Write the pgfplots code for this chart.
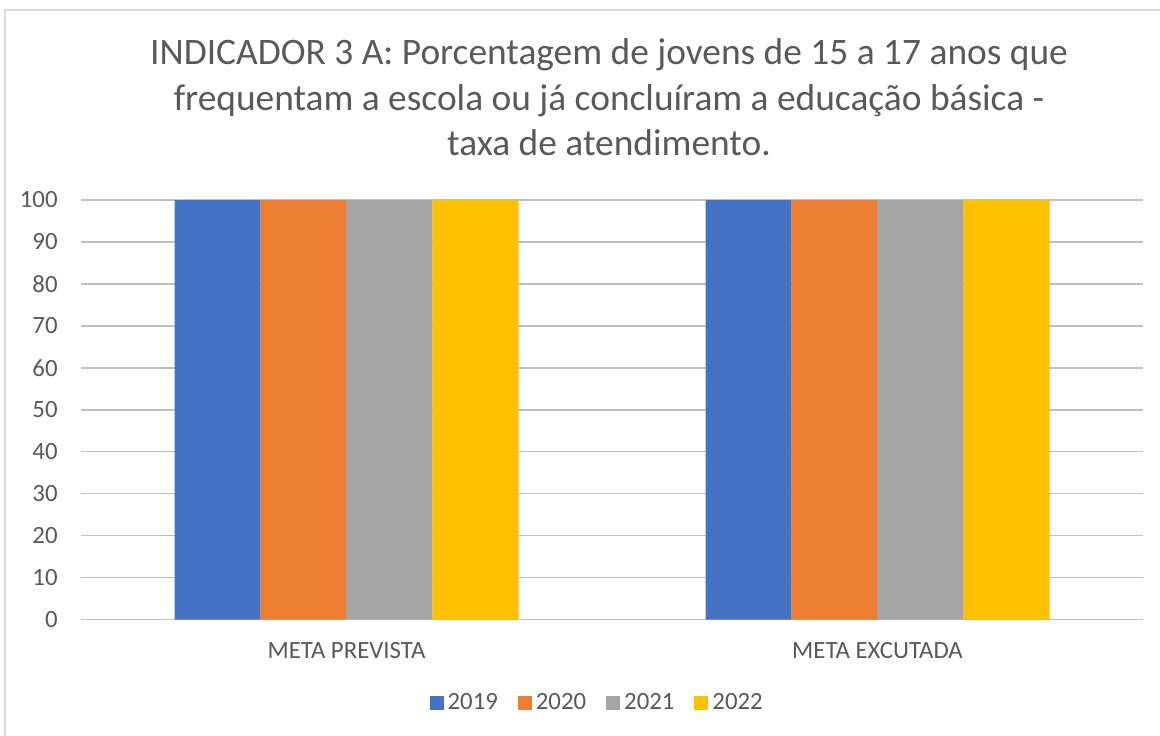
\documentclass[border=0pt]{standalone}
\usepackage{pgfplots}
\pgfplotsset{compat=1.18}
\usepackage{fontspec}
\setmainfont{Carlito}
\definecolor{cBlue}{HTML}{4472C4}
\definecolor{cOrange}{HTML}{ED7D31}
\definecolor{cGray}{HTML}{A5A5A5}
\definecolor{cYellow}{HTML}{FFC000}
\definecolor{txt}{HTML}{595959}
\definecolor{grid}{HTML}{D9D9D9}
\begin{document}
\begin{tikzpicture}
\useasboundingbox (0,0) rectangle (580pt,367.5pt);
\draw[grid, line width=0.75pt] (2.5pt,-5pt) -- (2.5pt,362.5pt) -- (585pt,362.5pt);
\node[anchor=base, text=txt, font=\fontsize{18.7}{22}\selectfont] at (304.5pt,335pt) {INDICADOR 3 A: Porcentagem de jovens de 15 a 17 anos que};
\node[anchor=base, text=txt, font=\fontsize{18.7}{22}\selectfont] at (304.5pt,312.15pt) {frequentam a escola ou já concluíram a educação básica -};
\node[anchor=base, text=txt, font=\fontsize{18.7}{22}\selectfont] at (304.5pt,289.5pt) {taxa de atendimento.};
\begin{axis}[
  at={(40.5pt,57.75pt)}, anchor=south west,
  scale only axis, width=531pt, height=209.75pt,
  ybar=0pt, bar width=43pt,
  xmin=-0.5, xmax=1.5, ymin=0, ymax=100,
  xtick={0,1}, xticklabels={META PREVISTA, META EXCUTADA},
  ytick={0,10,...,100},
  major tick length=0pt,
  axis line style={draw=none},
  ymajorgrids, grid style={grid, line width=0.75pt},
  /pgf/number format/assume math mode=true,
  ticklabel style={text=txt, font=\fontsize{12.4}{14}\selectfont},
  yticklabel style={anchor=east, inner sep=0pt, xshift=-11.5pt},
  xticklabel style={anchor=center, inner sep=0pt, yshift=-15.75pt},
  legend columns=4,
  legend style={draw=none, fill=none, at={(0.487,-0.199)}, anchor=center,
    font=\fontsize{12.4}{14}\selectfont, text=txt,
    /tikz/every even column/.append style={column sep=8pt}},
  legend image code/.code={\fill[#1] (0pt,-3.5pt) rectangle (7pt,3.5pt);},
]
\addplot[fill=cBlue, draw=none] coordinates {(0,100) (1,100)};
\addplot[fill=cOrange, draw=none] coordinates {(0,100) (1,100)};
\addplot[fill=cGray, draw=none] coordinates {(0,100) (1,100)};
\addplot[fill=cYellow, draw=none] coordinates {(0,100) (1,100)};
\legend{2019,2020,2021,2022}
\end{axis}
\end{tikzpicture}
\end{document}
